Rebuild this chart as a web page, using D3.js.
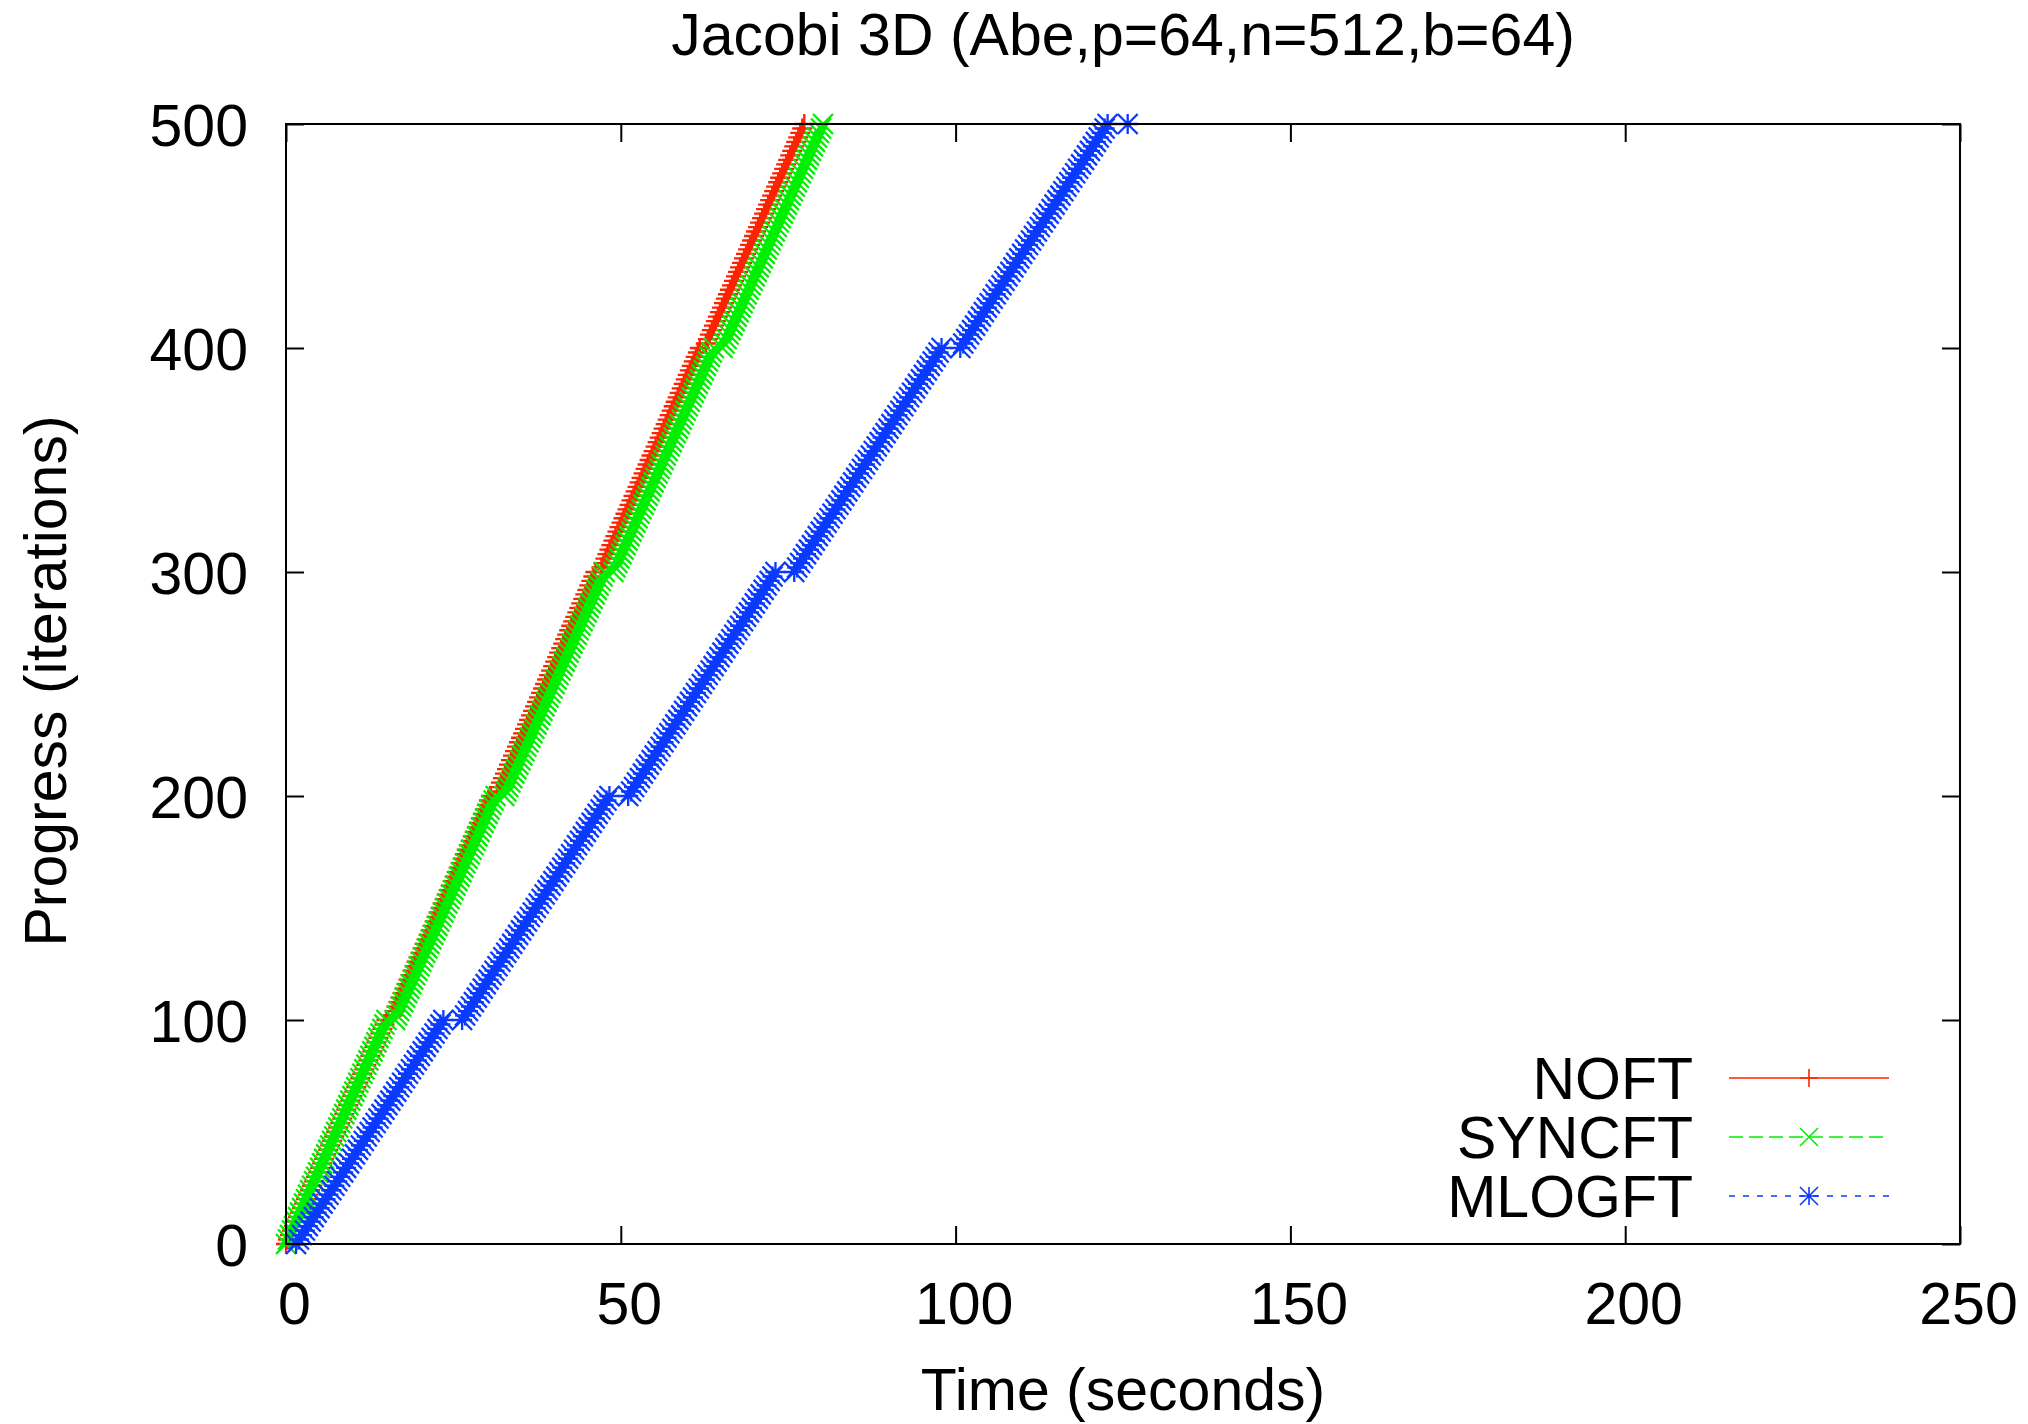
<!DOCTYPE html>
<html>
<head>
<meta charset="utf-8">
<title>Jacobi 3D progress</title>
<script src="https://cdn.jsdelivr.net/npm/d3@7"></script>
<style>
  html, body { margin: 0; padding: 0; background: #fff; }
  svg { display: block; }
  text { font-family: "Liberation Sans", Arial, Helvetica, sans-serif; fill: #000; }
</style>
</head>
<body>
<svg id="chart" width="2028" height="1424"></svg>
<script>
// ---- labels and ticks ----
const chartTitle = "Jacobi 3D (Abe,p=64,n=512,b=64)";
const xLabel = "Time (seconds)";
const yLabel = "Progress (iterations)";
const xTicks = [0, 50, 100, 150, 200, 250];
const yTicks = [0, 100, 200, 300, 400, 500];
const seriesNames = ["NOFT", "SYNCFT", "MLOGFT"];

// ---- progress samples: iteration number and wall time (s) for each run ----
const iterations = [
  0,2,4,6,8,10,12,14,16,18,20,22,24,26,28,30,32,34,36,38,40,42,44,46,48,
  50,52,54,56,58,60,62,64,66,68,70,72,74,76,78,80,82,84,86,88,90,92,94,96,98,
  100,102,104,106,108,110,112,114,116,118,120,122,124,126,128,130,132,134,136,138,140,142,144,146,148,
  150,152,154,156,158,160,162,164,166,168,170,172,174,176,178,180,182,184,186,188,190,192,194,196,198,
  200,202,204,206,208,210,212,214,216,218,220,222,224,226,228,230,232,234,236,238,240,242,244,246,248,
  250,252,254,256,258,260,262,264,266,268,270,272,274,276,278,280,282,284,286,288,290,292,294,296,298,
  300,302,304,306,308,310,312,314,316,318,320,322,324,326,328,330,332,334,336,338,340,342,344,346,348,
  350,352,354,356,358,360,362,364,366,368,370,372,374,376,378,380,382,384,386,388,390,392,394,396,398,
  400,402,404,406,408,410,412,414,416,418,420,422,424,426,428,430,432,434,436,438,440,442,444,446,448,
  450,452,454,456,458,460,462,464,466,468,470,472,474,476,478,480,482,484,486,488,490,492,494,496,498,
  500
];

const noftTime = [
  0.0,0.3,0.6,0.9,1.2,1.5,1.8,2.1,2.4,2.7,3.0,3.3,3.6,3.9,4.2,4.5,4.8,5.1,5.4,5.7,6.0,6.3,6.6,6.9,7.2,
  7.5,7.8,8.1,8.4,8.7,9.0,9.3,9.6,9.9,10.2,10.5,10.8,11.1,11.4,11.7,12.0,12.3,12.6,12.9,13.2,13.5,13.8,14.1,14.4,14.7,
  15.0,15.9,16.2,16.5,16.8,17.1,17.4,17.7,18.0,18.3,18.6,18.9,19.2,19.5,19.8,20.1,20.4,20.7,21.0,21.3,21.6,21.9,22.2,22.5,22.8,
  23.1,23.4,23.7,24.0,24.3,24.6,24.9,25.2,25.5,25.8,26.1,26.4,26.7,27.0,27.3,27.6,27.9,28.2,28.5,28.8,29.1,29.4,29.7,30.0,30.3,
  30.6,31.5,31.8,32.1,32.4,32.7,33.0,33.3,33.6,33.9,34.2,34.5,34.8,35.1,35.4,35.7,36.0,36.3,36.6,36.9,37.2,37.5,37.8,38.1,38.4,
  38.7,39.0,39.3,39.6,39.9,40.2,40.5,40.8,41.1,41.4,41.7,42.0,42.3,42.6,42.9,43.2,43.5,43.8,44.1,44.4,44.7,45.0,45.3,45.6,45.9,
  46.2,47.1,47.4,47.7,48.0,48.3,48.6,48.9,49.2,49.5,49.8,50.1,50.4,50.7,51.0,51.3,51.6,51.9,52.2,52.5,52.8,53.1,53.4,53.7,54.0,
  54.3,54.6,54.9,55.2,55.5,55.8,56.1,56.4,56.7,57.0,57.3,57.6,57.9,58.2,58.5,58.8,59.1,59.4,59.7,60.0,60.3,60.6,60.9,61.2,61.5,
  61.8,62.7,63.0,63.3,63.6,63.9,64.2,64.5,64.8,65.1,65.4,65.7,66.0,66.3,66.6,66.9,67.2,67.5,67.8,68.1,68.4,68.7,69.0,69.3,69.6,
  69.9,70.2,70.5,70.8,71.1,71.4,71.7,72.0,72.3,72.6,72.9,73.2,73.5,73.8,74.1,74.4,74.7,75.0,75.3,75.6,75.9,76.2,76.5,76.8,77.1,
  77.4
];

const syncftTime = [
  0.0,0.3,0.6,0.9,1.2,1.5,1.8,2.1,2.4,2.7,3.0,3.3,3.6,3.9,4.2,4.5,4.8,5.1,5.4,5.7,6.0,6.3,6.6,6.9,7.2,
  7.5,7.8,8.1,8.4,8.7,9.0,9.3,9.6,9.9,10.2,10.5,10.8,11.1,11.4,11.7,12.0,12.3,12.6,12.9,13.2,13.5,13.8,14.1,14.4,14.7,
  15.0,16.6,16.9,17.2,17.5,17.8,18.1,18.4,18.7,19.0,19.3,19.6,19.9,20.2,20.5,20.8,21.1,21.4,21.7,22.0,22.3,22.6,22.9,23.2,23.5,
  23.8,24.1,24.4,24.7,25.0,25.3,25.6,25.9,26.2,26.5,26.8,27.1,27.4,27.7,28.0,28.3,28.6,28.9,29.2,29.5,29.8,30.1,30.4,30.7,31.0,
  31.3,32.9,33.2,33.5,33.8,34.1,34.4,34.7,35.0,35.3,35.6,35.9,36.2,36.5,36.8,37.1,37.4,37.7,38.0,38.3,38.6,38.9,39.2,39.5,39.8,
  40.1,40.4,40.7,41.0,41.3,41.6,41.9,42.2,42.5,42.8,43.1,43.4,43.7,44.0,44.3,44.6,44.9,45.2,45.5,45.8,46.1,46.4,46.7,47.0,47.3,
  47.6,49.2,49.5,49.8,50.1,50.4,50.7,51.0,51.3,51.6,51.9,52.2,52.5,52.8,53.1,53.4,53.7,54.0,54.3,54.6,54.9,55.2,55.5,55.8,56.1,
  56.4,56.7,57.0,57.3,57.6,57.9,58.2,58.5,58.8,59.1,59.4,59.7,60.0,60.3,60.6,60.9,61.2,61.5,61.8,62.1,62.4,62.7,63.0,63.3,63.6,
  63.9,65.5,65.8,66.1,66.4,66.7,67.0,67.3,67.6,67.9,68.2,68.5,68.8,69.1,69.4,69.7,70.0,70.3,70.6,70.9,71.2,71.5,71.8,72.1,72.4,
  72.7,73.0,73.3,73.6,73.9,74.2,74.5,74.8,75.1,75.4,75.7,76.0,76.3,76.6,76.9,77.2,77.5,77.8,78.1,78.4,78.7,79.0,79.3,79.6,79.9,
  80.2
];

const mlogftTime = [
  1.50,1.94,2.38,2.82,3.26,3.70,4.14,4.58,5.02,5.46,5.90,6.34,6.78,7.22,7.66,8.10,8.54,8.98,9.42,9.86,10.30,10.74,11.18,11.62,12.06,
  12.50,12.94,13.38,13.82,14.26,14.70,15.14,15.58,16.02,16.46,16.90,17.34,17.78,18.22,18.66,19.10,19.54,19.98,20.42,20.86,21.30,21.74,22.18,22.62,23.06,
  23.50,26.74,27.18,27.62,28.06,28.50,28.94,29.38,29.82,30.26,30.70,31.14,31.58,32.02,32.46,32.90,33.34,33.78,34.22,34.66,35.10,35.54,35.98,36.42,36.86,
  37.30,37.74,38.18,38.62,39.06,39.50,39.94,40.38,40.82,41.26,41.70,42.14,42.58,43.02,43.46,43.90,44.34,44.78,45.22,45.66,46.10,46.54,46.98,47.42,47.86,
  48.30,51.54,51.98,52.42,52.86,53.30,53.74,54.18,54.62,55.06,55.50,55.94,56.38,56.82,57.26,57.70,58.14,58.58,59.02,59.46,59.90,60.34,60.78,61.22,61.66,
  62.10,62.54,62.98,63.42,63.86,64.30,64.74,65.18,65.62,66.06,66.50,66.94,67.38,67.82,68.26,68.70,69.14,69.58,70.02,70.46,70.90,71.34,71.78,72.22,72.66,
  73.10,76.34,76.78,77.22,77.66,78.10,78.54,78.98,79.42,79.86,80.30,80.74,81.18,81.62,82.06,82.50,82.94,83.38,83.82,84.26,84.70,85.14,85.58,86.02,86.46,
  86.90,87.34,87.78,88.22,88.66,89.10,89.54,89.98,90.42,90.86,91.30,91.74,92.18,92.62,93.06,93.50,93.94,94.38,94.82,95.26,95.70,96.14,96.58,97.02,97.46,
  97.90,101.14,101.58,102.02,102.46,102.90,103.34,103.78,104.22,104.66,105.10,105.54,105.98,106.42,106.86,107.30,107.74,108.18,108.62,109.06,109.50,109.94,110.38,110.82,111.26,
  111.70,112.14,112.58,113.02,113.46,113.90,114.34,114.78,115.22,115.66,116.10,116.54,116.98,117.42,117.86,118.30,118.74,119.18,119.62,120.06,120.50,120.94,121.38,121.82,122.26,
  122.70
];

// checkpoints: after these iterations the run records the time once the checkpoint is written
const checkpointIters = [100, 200, 300, 400, 500];
const noftResume = [];
const syncftResume = [16.3, 32.6, 48.9, 65.2];
const mlogftResume = [26.3, 51.1, 75.9, 100.7, 125.7];

// ---- geometry ----
const plot = { left: 286, right: 1960, top: 124, bottom: 1244 };
const FONT = 59;
const TICK = 18;
const FAMILY = '"Liberation Sans", Arial, Helvetica, sans-serif';

const svg = d3.select("#chart");

const x = d3.scaleLinear().domain([0, 250]).range([plot.left, plot.right]);
const y = d3.scaleLinear().domain([0, 500]).range([plot.bottom, plot.top]);

function buildPoints(times, resume) {
  const pts = [];
  d3.zip(iterations, times).forEach(([it, t]) => {
    pts.push({ it, t });
    const k = checkpointIters.indexOf(it);
    if (k >= 0 && k < resume.length) pts.push({ it, t: resume[k] });
  });
  return pts;
}

const R = 10;
const shapes = {
  plus:  `M${-R},0H${R}M0,${-R}V${R}`,
  cross: `M${-R},${-R}L${R},${R}M${-R},${R}L${R},${-R}`,
  star:  `M${-R},0H${R}M0,${-R}V${R}M${-R},${-R}L${R},${R}M${-R},${R}L${R},${-R}`
};

const series = [
  { name: seriesNames[0], points: buildPoints(noftTime, noftResume),     color: "#ff2200", dash: null,   shape: shapes.plus },
  { name: seriesNames[1], points: buildPoints(syncftTime, syncftResume), color: "#00ee00", dash: "14,6", shape: shapes.cross },
  { name: seriesNames[2], points: buildPoints(mlogftTime, mlogftResume), color: "#0a3aff", dash: "6,8",  shape: shapes.star }
];

// ---- axes (ticks point inward, mirrored on top and right) ----
function styleAxis(g) {
  g.attr("font-size", FONT).attr("font-family", FAMILY);
  g.select(".domain").remove();
  g.selectAll(".tick line").attr("stroke", "#000").attr("stroke-width", 2);
}

svg.append("g")
  .attr("transform", `translate(0,${plot.bottom})`)
  .call(d3.axisBottom(x).tickValues(xTicks).tickSizeInner(-TICK).tickSizeOuter(0).tickFormat(d3.format("d")))
  .call(styleAxis)
  .call(g => g.selectAll(".tick text").attr("y", 80).attr("dy", null).attr("x", 8).attr("fill", "#000"));

svg.append("g")
  .attr("transform", `translate(0,${plot.top})`)
  .call(d3.axisTop(x).tickValues(xTicks).tickSizeInner(-TICK).tickSizeOuter(0).tickFormat(""))
  .call(styleAxis);

svg.append("g")
  .attr("transform", `translate(${plot.left},0)`)
  .call(d3.axisLeft(y).tickValues(yTicks).tickSizeInner(-TICK).tickSizeOuter(0).tickFormat(d3.format("d")))
  .call(styleAxis)
  .call(g => g.selectAll(".tick text").attr("x", -38).attr("dy", "0.36em").attr("fill", "#000"));

svg.append("g")
  .attr("transform", `translate(${plot.right},0)`)
  .call(d3.axisRight(y).tickValues(yTicks).tickSizeInner(-TICK).tickSizeOuter(0).tickFormat(""))
  .call(styleAxis);

// ---- series: connecting lines, then a marker at every sample ----
const line = d3.line().x(d => x(d.t)).y(d => y(d.it));

series.forEach(s => {
  const g = svg.append("g").attr("class", "series");
  g.append("path")
    .datum(s.points)
    .attr("d", line)
    .attr("fill", "none")
    .attr("stroke", s.color)
    .attr("stroke-width", 1.5)
    .attr("stroke-dasharray", s.dash);
  g.selectAll("path.mark")
    .data(s.points)
    .join("path")
    .attr("class", "mark")
    .attr("d", s.shape)
    .attr("transform", d => `translate(${x(d.t)},${y(d.it)})`)
    .attr("fill", "none")
    .attr("stroke", s.color)
    .attr("stroke-width", 2.3);
});

// ---- frame ----
svg.append("rect")
  .attr("x", plot.left).attr("y", plot.top)
  .attr("width", plot.right - plot.left).attr("height", plot.bottom - plot.top)
  .attr("fill", "none").attr("stroke", "#000").attr("stroke-width", 2);

// ---- titles ----
svg.append("text")
  .attr("x", (plot.left + plot.right) / 2).attr("y", 55)
  .attr("text-anchor", "middle").attr("font-size", FONT)
  .text(chartTitle);

svg.append("text")
  .attr("x", (plot.left + plot.right) / 2).attr("y", 1410)
  .attr("text-anchor", "middle").attr("font-size", FONT)
  .text(xLabel);

svg.append("text")
  .attr("transform", `translate(66,${(plot.top + plot.bottom) / 2 - 3}) rotate(-90)`)
  .attr("text-anchor", "middle").attr("font-size", FONT)
  .text(yLabel);

// ---- legend ----
const legend = { textRight: 1693, x0: 1729, x1: 1889, firstY: 1078, step: 59 };
const lg = svg.append("g").attr("class", "legend");
series.forEach((s, i) => {
  const cy = legend.firstY + i * legend.step;
  lg.append("text")
    .attr("x", legend.textRight).attr("y", cy + 21)
    .attr("text-anchor", "end").attr("font-size", FONT)
    .text(s.name);
  lg.append("line")
    .attr("x1", legend.x0).attr("x2", legend.x1)
    .attr("y1", cy).attr("y2", cy)
    .attr("stroke", s.color).attr("stroke-width", 1.5)
    .attr("stroke-dasharray", s.dash);
  lg.append("path")
    .attr("d", shapes[["plus", "cross", "star"][i]].replace(/10/g, "9"))
    .attr("transform", `translate(${(legend.x0 + legend.x1) / 2},${cy})`)
    .attr("fill", "none").attr("stroke", s.color).attr("stroke-width", 1.6);
});
</script>
</body>
</html>
